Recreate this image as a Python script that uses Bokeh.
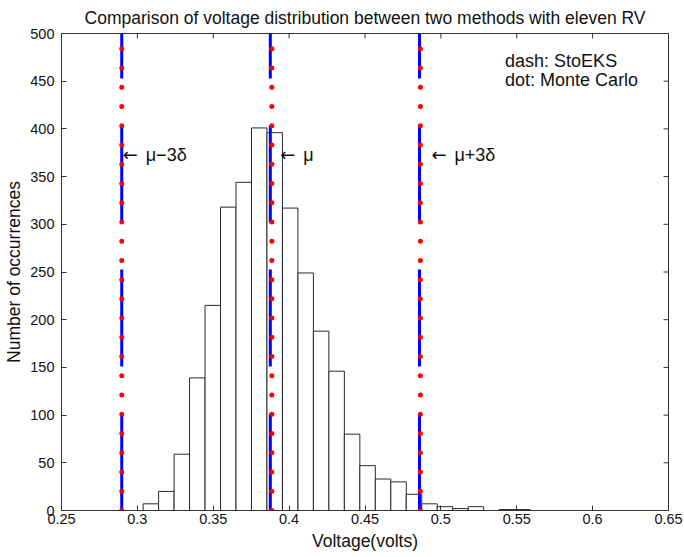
import numpy as np
from bokeh.plotting import figure
from bokeh.models import LinearAxis, FixedTicker, Range1d, ColumnDataSource
from bokeh.core.properties import value
from bokeh.embed import file_html
from bokeh.resources import INLINE

# ---------------- data ----------------
counts = [7, 20, 59, 139, 215, 318, 344, 401, 396, 317, 249, 188, 146, 80,
          47, 33, 30, 17, 7, 4, 2, 4, 0, 1, 1]
bin_start = 0.3038
bin_width = 0.0102

sto_x = [0.2897, 0.3876, 0.4859]          # dashed lines (StoEKS)
mc_x = [0.2897, 0.3886, 0.4865]           # dotted lines (Monte Carlo)
mc_top = 484
mc_dots = 25

annot_text = ["\u03bc\u22123\u03b4", "\u03bc", "\u03bc+3\u03b4"]
annot_y = 373
legend_lines = ["dash: StoEKS", "dot: Monte Carlo"]

x_ticks = [0.25, 0.3, 0.35, 0.4, 0.45, 0.5, 0.55, 0.6, 0.65]
x_tick_labels = ["0.25", "0.3", "0.35", "0.4", "0.45", "0.5", "0.55", "0.6", "0.65"]
y_ticks = [0, 50, 100, 150, 200, 250, 300, 350, 400, 450, 500]

title = "Comparison of voltage distribution between two methods with eleven RV"
xlabel = "Voltage(volts)"
ylabel = "Number of occurrences"

FONT = "Liberation Sans"
AXC = "#333333"
TXT = "#111111"

# ---------------- figure ----------------
p = figure(width=684, height=557, output_backend="svg", toolbar_location=None,
           x_range=Range1d(0.25, 0.65), y_range=Range1d(0, 500),
           min_border_left=61, min_border_right=16, min_border_top=33,
           min_border_bottom=47, x_axis_type=None, y_axis_type=None)
p.grid.visible = False
p.outline_line_color = AXC
p.background_fill_color = "white"
p.border_fill_color = "white"

p.title.text = title
p.title.text_font = FONT
p.title.text_font_size = "17.5px"
p.title.text_font_style = "normal"
p.title.align = "center"
p.title.standoff = 11
p.title.text_color = TXT


def style_axis(ax):
    ax.major_tick_in = 5
    ax.major_tick_out = 0
    ax.minor_tick_in = 0
    ax.minor_tick_out = 0
    ax.axis_line_color = AXC
    ax.major_tick_line_color = AXC
    ax.major_label_text_font = FONT
    ax.major_label_text_color = TXT
    ax.major_label_text_font_size = "14.5px"
    ax.axis_label_text_font = FONT
    ax.axis_label_text_font_size = "17.5px"
    ax.axis_label_text_font_style = "normal"
    ax.axis_label_text_color = TXT


xb = LinearAxis(ticker=FixedTicker(ticks=x_ticks), axis_label=xlabel)
xb.major_label_overrides = dict(zip(x_ticks, x_tick_labels))
style_axis(xb)
xb.major_label_standoff = 3
xb.axis_label_standoff = 4
p.add_layout(xb, "below")

yl = LinearAxis(ticker=FixedTicker(ticks=y_ticks), axis_label=ylabel)
style_axis(yl)
yl.major_label_standoff = 7
yl.axis_label_standoff = 3
p.add_layout(yl, "left")

# inward tick marks on the top and right edges of the box
p.scatter(x=x_ticks, y=[500] * len(x_ticks), marker="dash", angle=np.pi / 2,
          size=10, line_color=AXC, line_width=1)
p.scatter(x=[0.65] * len(y_ticks), y=y_ticks, marker="dash", size=10,
          line_color=AXC, line_width=1)

# ---------------- histogram ----------------
edges = bin_start + bin_width * np.arange(len(counts) + 1)
src = ColumnDataSource(dict(left=edges[:-1], right=edges[1:], top=counts))
p.quad(left="left", right="right", bottom=0, top="top", source=src,
       fill_color="white", line_color="#2a2a2a", line_width=1)

# ---------------- dashed StoEKS lines ----------------
p.segment(x0=sto_x, y0=[0] * len(sto_x), x1=sto_x, y1=[500] * len(sto_x),
          line_color="#0000ff", line_width=3, line_dash="97 47")

# ---------------- dotted Monte Carlo lines ----------------
dot_y = np.linspace(0, mc_top, mc_dots)
for xv in mc_x:
    p.scatter(x=[xv] * len(dot_y), y=dot_y, size=5, fill_color="#ff0000",
              line_color=None)

# ---------------- annotations ----------------
arrows = ColumnDataSource(dict(x=sto_x, y=[annot_y] * 3, text=["\u2190"] * 3,
                               xoff=[1, 10, 12]))
p.text(x="x", y="y", text="text", x_offset="xoff", source=arrows,
       text_font=value("DejaVu Sans"), text_font_size="18px", text_color=TXT,
       text_baseline="middle", text_align="left")
asrc = ColumnDataSource(dict(x=sto_x, y=[annot_y] * 3, text=annot_text,
                             xoff=[24, 33, 35]))
p.text(x="x", y="y", text="text", x_offset="xoff", source=asrc,
       text_font=value(FONT), text_font_size="18px", text_color=TXT,
       text_baseline="middle", text_align="left")

lsrc = ColumnDataSource(dict(x=[0.5423, 0.5423], y=[471, 451], text=legend_lines))
p.text(x="x", y="y", text="text", source=lsrc,
       text_font=value(FONT), text_font_size="18px", text_color=TXT,
       text_baseline="alphabetic", text_align="left")

open("out.html", "w").write(file_html(p, INLINE))
